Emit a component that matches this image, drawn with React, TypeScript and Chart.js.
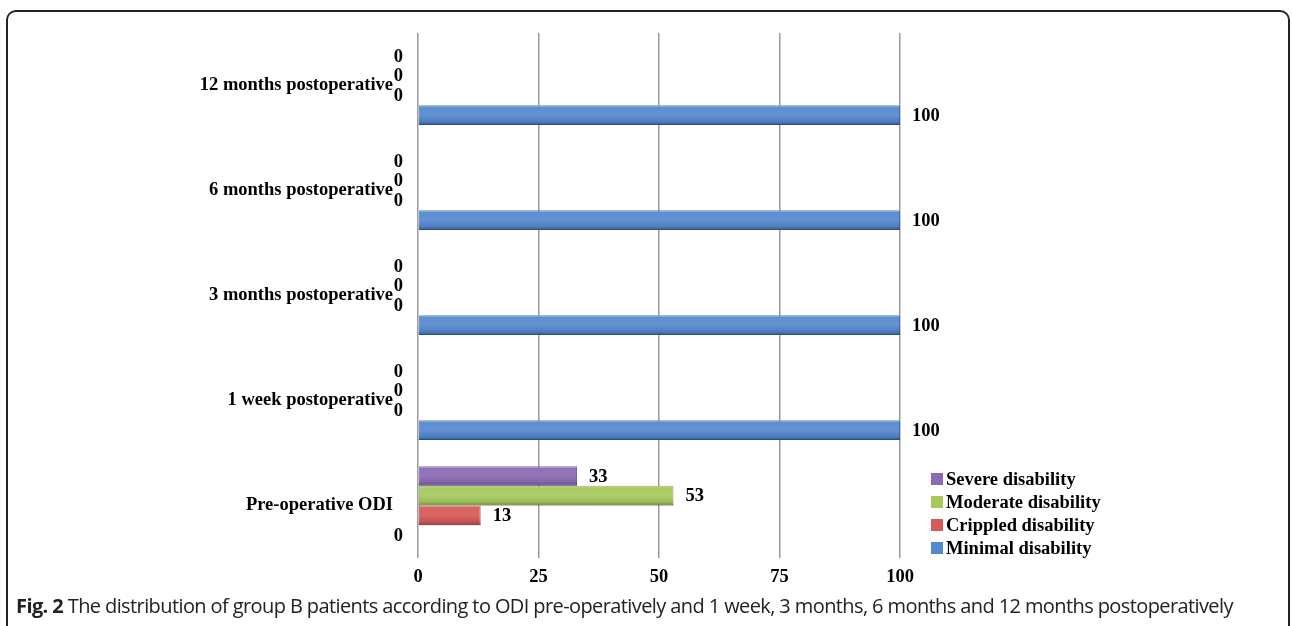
import React, { useEffect, useRef } from "react";
import { Chart, registerables } from "chart.js";

Chart.register(...registerables);

const categories = [
  "12 months postoperative",
  "6 months postoperative",
  "3 months postoperative",
  "1 week postoperative",
  "Pre-operative ODI",
];
const seriesNames = ["Severe disability", "Moderate disability", "Crippled disability", "Minimal disability"];
const severe = [0, 0, 0, 0, 33];
const moderate = [0, 0, 0, 0, 53];
const crippled = [0, 0, 0, 0, 13];
const minimal = [100, 100, 100, 100, 0];
const xMin = 0;
const xMax = 100;
const xStep = 25;

const colors = ["#8a6bb3", "#a6c95c", "#d65a58", "#5589cf"];
const borders = ["#6a4f8e", "#82a040", "#a83d3b", "#3a68a8"];

const FONT = "'Liberation Serif', 'Times New Roman', serif";

if (typeof document !== "undefined") {
  document.body.style.margin = "0";
}

const labelPlugin = {
  id: "valueLabels",
  afterDatasetsDraw(chart: any) {
    const ctx = chart.ctx;
    const xs = chart.scales.x;
    ctx.save();
    ctx.font = `bold 18.5px ${FONT}`;
    ctx.textBaseline = "middle";
    chart.data.datasets.forEach((ds: any, di: number) => {
      const meta = chart.getDatasetMeta(di);
      meta.data.forEach((bar: any, i: number) => {
        const v = ds.data[i];
        if (v > 0) {
          const h = bar.height;
          const top = bar.y - h / 2;
          const g = ctx.createLinearGradient(0, top, 0, top + h);
          g.addColorStop(0, "rgba(255,255,255,0.25)");
          g.addColorStop(0.12, "rgba(255,255,255,0.05)");
          g.addColorStop(0.5, "rgba(255,255,255,0.08)");
          g.addColorStop(0.8, "rgba(0,0,0,0.06)");
          g.addColorStop(1, "rgba(0,0,0,0.3)");
          ctx.fillStyle = g;
          ctx.fillRect(bar.base, top, bar.x - bar.base, h);
          ctx.fillStyle = "#000";
          ctx.textAlign = "left";
          ctx.fillText(String(v), bar.x + 12, bar.y + 1);
        } else {
          ctx.fillStyle = "#000";
          ctx.textAlign = "right";
          ctx.fillText(String(v), xs.getPixelForValue(0) - 15, bar.y + 1);
        }
      });
    });
    ctx.restore();
  },
};

const legendPlugin = {
  id: "sideLegend",
  afterDraw(chart: any) {
    const ctx = chart.ctx;
    const area = chart.chartArea;
    ctx.save();
    ctx.font = `bold 18.5px ${FONT}`;
    ctx.textBaseline = "middle";
    ctx.textAlign = "left";
    const n = seriesNames.length;
    seriesNames.forEach((name, i) => {
      const cy = area.bottom - 10 - (n - 1 - i) * 23;
      const bx = area.right + 31;
      ctx.fillStyle = colors[i];
      ctx.fillRect(bx, cy - 6, 12, 12);
      ctx.fillStyle = "#000";
      ctx.fillText(name, bx + 15, cy + 1);
    });
    ctx.restore();
  },
};

function App() {
  const ref = useRef<HTMLCanvasElement>(null);
  useEffect(() => {
    if (!ref.current) return;
    const seriesData = [severe, moderate, crippled, minimal];
    const chart = new Chart(ref.current, {
      type: "bar",
      data: {
        labels: categories,
        datasets: seriesNames.map((name, i) => ({
          label: name,
          data: seriesData[i],
          backgroundColor: colors[i],
          borderColor: borders[i],
          borderWidth: 1,
          borderSkipped: false,
          barPercentage: 1,
          categoryPercentage: 0.75,
        })),
      },
      options: {
        indexAxis: "y",
        responsive: false,
        animation: false,
        layout: { padding: { top: 33, right: 392, left: 0, bottom: 0 } },
        plugins: { legend: { display: false }, tooltip: { enabled: false } },
        scales: {
          x: {
            min: xMin,
            max: xMax,
            ticks: {
              stepSize: xStep,
              color: "#000",
              padding: 8,
              font: { family: FONT, size: 18.5, weight: "bold" },
            },
            grid: { color: "#9a9a9a", lineWidth: 1.5, drawTicks: false },
            border: { display: false },
            afterFit: (s: any) => {
              s.height = 40;
              s.paddingLeft = 0;
              s.paddingRight = 0;
            },
          },
          y: {
            ticks: {
              color: "#000",
              padding: 25,
              font: { family: FONT, size: 18.5, weight: "bold" },
            },
            grid: { display: false, drawTicks: false },
            border: { display: false },
            afterFit: (s: any) => {
              s.width = 418;
              s.paddingTop = 0;
              s.paddingBottom = 0;
            },
          },
        },
      },
      plugins: [labelPlugin, legendPlugin],
    });
    return () => chart.destroy();
  }, []);

  return (
    <div style={{ position: "relative", width: 1292, height: 626, overflow: "hidden" }}>
      <div
        style={{
          position: "absolute",
          left: 6,
          top: 10,
          width: 1284,
          height: 616,
          border: "2px solid #222",
          borderBottom: "none",
          borderRadius: "10px 10px 0 0",
          boxSizing: "border-box",
        }}
      />
      <canvas ref={ref} width={1292} height={598} style={{ position: "absolute", left: 0, top: 0, display: "block" }} />
      <div
        style={{
          position: "absolute",
          left: 16,
          top: 596,
          fontFamily: "'Open Sans', sans-serif",
          fontSize: 20,
          lineHeight: "20px",
          color: "#222",
          whiteSpace: "nowrap",
          letterSpacing: "-0.6px",
        }}
      >
        <b>Fig. 2</b> The distribution of group B patients according to ODI pre-operatively and 1 week, 3 months, 6 months and 12 months postoperatively
      </div>
    </div>
  );
}

export default App;
